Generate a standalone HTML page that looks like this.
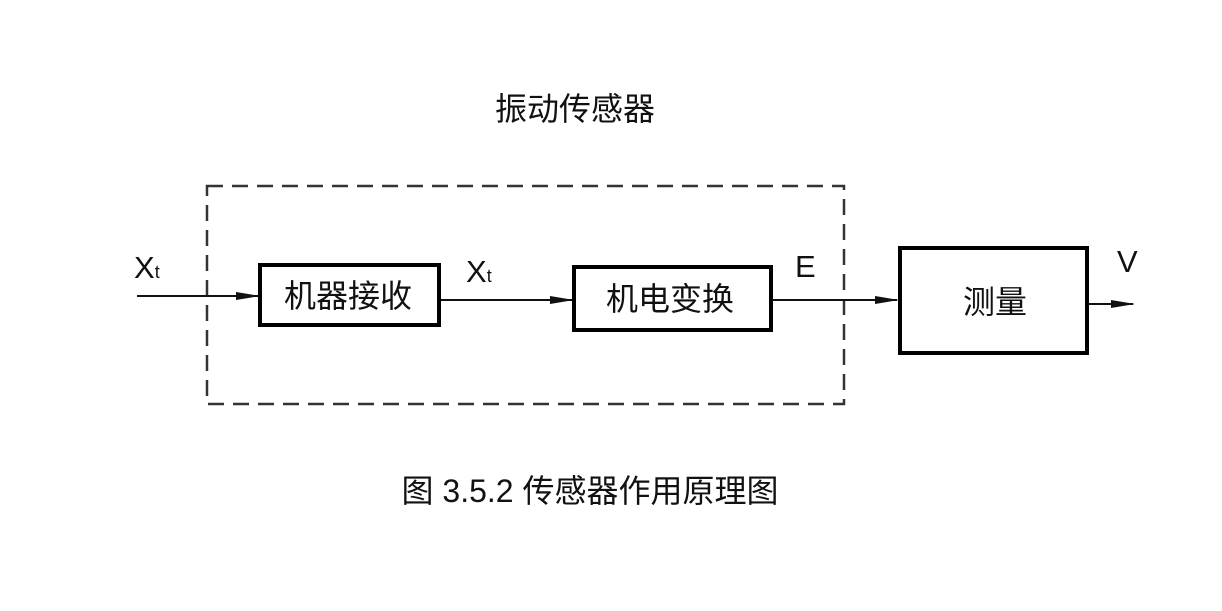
<!DOCTYPE html>
<html><head><meta charset="utf-8"><style>
body{margin:0;background:#fff;width:1222px;height:606px;overflow:hidden}
text{font-family:"Liberation Sans","Noto Sans CJK SC",sans-serif;fill:#111}
</style></head><body>
<svg width="1222" height="606" xmlns="http://www.w3.org/2000/svg">
<defs><marker id="a" markerWidth="24" markerHeight="10" refX="22" refY="5" orient="auto" markerUnits="userSpaceOnUse"><path d="M0,1 L24,5 L0,9 Z" fill="#111"/></marker></defs>
<text x="575" y="120" font-size="32" text-anchor="middle">振动传感器</text>
<rect x="207" y="186" width="637" height="218" fill="none" stroke="#333" stroke-width="2.5" stroke-dasharray="16,9"/>
<rect x="260" y="265" width="179" height="60" fill="none" stroke="#000" stroke-width="4"/>
<text x="348" y="307" font-size="32" text-anchor="middle">机器接收</text>
<rect x="574" y="267" width="197" height="63" fill="none" stroke="#000" stroke-width="4"/>
<text x="670" y="310" font-size="32" text-anchor="middle">机电变换</text>
<rect x="900" y="248" width="187" height="105" fill="none" stroke="#000" stroke-width="4"/>
<text x="995" y="313" font-size="32" text-anchor="middle">测量</text>
<line x1="137" y1="296" x2="258" y2="296" stroke="#111" stroke-width="2" marker-end="url(#a)"/>
<line x1="441" y1="300" x2="572" y2="300" stroke="#111" stroke-width="2" marker-end="url(#a)"/>
<line x1="772" y1="300" x2="897" y2="300" stroke="#111" stroke-width="2" marker-end="url(#a)"/>
<line x1="1088" y1="304" x2="1133" y2="304" stroke="#111" stroke-width="2" marker-end="url(#a)"/>
<text x="134" y="278" font-size="31">X<tspan font-size="18">t</tspan></text>
<text x="466" y="282" font-size="31">X<tspan font-size="18">t</tspan></text>
<text x="795" y="277" font-size="31">E</text>
<text x="1117" y="272" font-size="31">V</text>
<text x="590" y="502" font-size="32" text-anchor="middle">图 3.5.2 传感器作用原理图</text>
</svg>
</body></html>
